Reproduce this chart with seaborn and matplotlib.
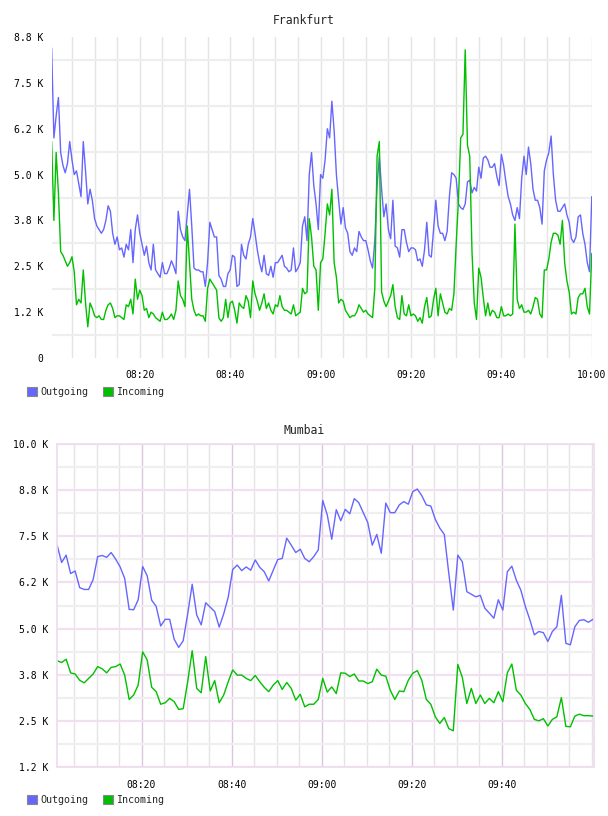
import numpy as np
import matplotlib
matplotlib.use("Agg")
import matplotlib.pyplot as plt
from matplotlib.patches import Patch
from matplotlib.ticker import FixedLocator, MultipleLocator
import seaborn as sns

# Frankfurt, 30 s samples (values in K)
fra_out = [
    8.45, 6.0, 6.6, 7.1, 5.6, 5.25, 5.05, 5.3, 5.9, 5.4,
    5.0, 5.1, 4.75, 4.4, 5.9, 5.1, 4.2, 4.6, 4.3, 3.8,
    3.6, 3.5, 3.4, 3.5, 3.75, 4.15, 4.0, 3.4, 3.1, 3.3,
    2.95, 3.0, 2.75, 3.1, 2.95, 3.5, 2.6, 3.5, 3.9, 3.4,
    3.1, 2.8, 3.05, 2.6, 2.4, 3.1, 2.4, 2.3, 2.2, 2.6,
    2.3, 2.3, 2.45, 2.65, 2.5, 2.3, 4.0, 3.5, 3.3, 3.2,
    3.9, 4.6, 3.6, 2.45, 2.4, 2.4, 2.35, 2.35, 1.95, 2.6,
    3.7, 3.5, 3.3, 3.3, 2.25, 2.15, 1.95, 1.95, 2.3, 2.4,
    2.8, 2.75, 1.95, 2.0, 3.1, 2.8, 2.7, 3.1, 3.3, 3.8,
    3.4, 2.95, 2.6, 2.35, 2.8, 2.3, 2.25, 2.5, 2.2, 2.6,
    2.6, 2.7, 2.8, 2.5, 2.45, 2.35, 2.4, 3.0, 2.35, 2.45,
    2.6, 3.6, 3.85, 3.2, 5.0, 5.6, 4.7, 4.2, 3.5, 5.0,
    4.9, 5.4, 6.25, 6.0, 7.0, 6.2, 5.0, 4.3, 3.65, 4.1,
    3.55, 3.4, 2.9, 2.8, 3.0, 2.9, 3.45, 3.3, 3.2, 3.2,
    2.95, 2.65, 2.45, 3.2, 4.7, 5.5, 4.6, 3.85, 4.2, 3.5,
    3.25, 4.3, 3.05, 3.0, 2.75, 3.5, 3.5, 3.15, 2.9, 3.0,
    3.0, 2.95, 2.65, 2.7, 2.5, 2.95, 3.7, 2.8, 2.75, 3.5,
    4.3, 3.6, 3.4, 3.4, 3.2, 3.45, 4.4, 5.05, 5.0, 4.9,
    4.2, 4.1, 4.05, 4.2, 4.8, 4.85, 4.5, 4.65, 4.55, 5.2,
    4.9, 5.45, 5.5, 5.4, 5.2, 5.2, 5.3, 4.95, 4.7, 5.55,
    5.25, 4.8, 4.4, 4.2, 3.9, 3.75, 4.1, 3.8, 4.9, 5.5,
    5.0, 5.75, 5.3, 4.6, 4.3, 4.3, 4.1, 3.65, 5.1, 5.4,
    5.6, 6.05, 5.0, 4.3, 4.0, 4.0, 4.1, 4.2, 3.9, 3.7,
    3.25, 3.15, 3.3, 3.85, 3.9, 3.4, 3.1, 2.6, 2.35, 4.4,
]
fra_in = [
    5.9, 3.75, 5.6, 4.5, 2.9, 2.8, 2.65, 2.5, 2.6, 2.76,
    2.35, 1.45, 1.6, 1.5, 2.4, 1.5, 0.85, 1.5, 1.35, 1.15,
    1.1, 1.15, 1.05, 1.05, 1.3, 1.45, 1.5, 1.35, 1.1, 1.15,
    1.15, 1.1, 1.05, 1.45, 1.4, 1.6, 1.2, 2.15, 1.6, 1.85,
    1.7, 1.3, 1.35, 1.1, 1.25, 1.2, 1.1, 1.05, 1.0, 1.25,
    1.05, 1.05, 1.1, 1.2, 1.05, 1.3, 2.1, 1.7, 1.6, 1.4,
    3.6, 2.6, 1.6, 1.3, 1.15, 1.2, 1.15, 1.15, 1.0, 1.9,
    2.15, 2.05, 1.95, 1.85, 1.1, 1.0, 1.1, 1.6, 1.1, 1.5,
    1.55, 1.3, 0.95, 1.5, 1.4, 1.35, 1.7, 1.55, 1.1, 2.1,
    1.75, 1.55, 1.3, 1.5, 1.75, 1.35, 1.5, 1.3, 1.2, 1.45,
    1.4, 1.7, 1.4, 1.3, 1.3, 1.25, 1.2, 1.45, 1.15, 1.2,
    1.25, 1.9, 1.75, 1.8, 3.8, 3.3, 2.5, 2.4, 1.3, 2.6,
    2.7, 3.4, 4.2, 3.9, 4.6, 2.6, 2.2, 1.5, 1.6, 1.55,
    1.3, 1.2, 1.1, 1.15, 1.15, 1.25, 1.45, 1.35, 1.25, 1.3,
    1.2, 1.15, 1.1, 1.9, 5.5, 5.9, 1.8, 1.55, 1.4, 1.55,
    1.7, 2.0, 1.4, 1.1, 1.05, 1.7, 1.2, 1.15, 1.45, 1.15,
    1.2, 1.15, 1.0, 1.1, 0.95, 1.4, 1.65, 1.1, 1.15, 1.6,
    1.9, 1.15, 1.75, 1.5, 1.25, 1.2, 1.35, 1.3, 1.75, 3.1,
    4.3, 6.0, 6.1, 8.4, 5.8, 5.5, 2.9, 1.5, 1.05, 2.45,
    2.2, 1.65, 1.15, 1.5, 1.15, 1.3, 1.25, 1.1, 1.1, 1.4,
    1.15, 1.15, 1.2, 1.15, 1.2, 3.65, 1.6, 1.35, 1.45, 1.25,
    1.25, 1.3, 1.2, 1.4, 1.65, 1.6, 1.2, 1.1, 2.4, 2.4,
    2.7, 3.15, 3.4, 3.4, 3.35, 3.1, 3.75, 2.6, 2.1, 1.8,
    1.2, 1.25, 1.2, 1.65, 1.75, 1.75, 1.9, 1.4, 1.2, 2.85,
]

# Mumbai, 1 min samples (values in K)
mum_out = [
    7.26, 6.79, 6.99, 6.49, 6.56, 6.11, 6.06, 6.06, 6.33, 6.95,
    6.98, 6.93, 7.06, 6.88, 6.67, 6.36, 5.52, 5.51, 5.78, 6.68,
    6.43, 5.77, 5.6, 5.07, 5.25, 5.25, 4.71, 4.49, 4.67, 5.4,
    6.2, 5.37, 5.1, 5.7, 5.58, 5.46, 5.04, 5.4, 5.85, 6.6,
    6.72, 6.57, 6.67, 6.58, 6.86, 6.66, 6.54, 6.29, 6.58, 6.87,
    6.9, 7.45, 7.26, 7.06, 7.15, 6.9, 6.81, 6.95, 7.13, 8.47,
    8.08, 7.42, 8.22, 7.92, 8.23, 8.11, 8.52, 8.41, 8.14, 7.87,
    7.26, 7.55, 7.04, 8.4, 8.14, 8.14, 8.35, 8.44, 8.37, 8.71,
    8.78, 8.6, 8.35, 8.32, 7.96, 7.72, 7.55, 6.49, 5.5, 6.99,
    6.81, 6.0, 5.93, 5.86, 5.9, 5.55, 5.42, 5.28, 5.78, 5.5,
    6.54, 6.69, 6.31, 6.04, 5.6, 5.24, 4.83, 4.92, 4.89, 4.65,
    4.92, 5.05, 5.9, 4.6, 4.56, 5.05, 5.22, 5.24, 5.17, 5.25,
]
mum_in = [
    4.13, 4.08, 4.17, 3.8, 3.77, 3.6, 3.53, 3.65, 3.77, 3.97,
    3.91, 3.8, 3.95, 3.97, 4.04, 3.74, 3.08, 3.2, 3.47, 4.37,
    4.15, 3.41, 3.29, 2.95, 2.99, 3.11, 3.02, 2.81, 2.83, 3.56,
    4.4, 3.38, 3.26, 4.24, 3.31, 3.59, 2.99, 3.2, 3.56, 3.88,
    3.74, 3.74, 3.65, 3.59, 3.73, 3.56, 3.41, 3.29, 3.47, 3.59,
    3.35, 3.54, 3.38, 3.06, 3.22, 2.88, 2.95, 2.95, 3.08, 3.65,
    3.28, 3.42, 3.24, 3.8, 3.79, 3.7, 3.77, 3.58, 3.58, 3.51,
    3.56, 3.9, 3.74, 3.71, 3.33, 3.08, 3.31, 3.29, 3.6, 3.79,
    3.86, 3.6, 3.08, 2.95, 2.61, 2.43, 2.59, 2.29, 2.23, 4.03,
    3.68, 2.97, 3.38, 2.97, 3.2, 2.97, 3.11, 2.99, 3.29, 3.02,
    3.8, 4.04, 3.33, 3.2, 2.97, 2.81, 2.54, 2.5, 2.56, 2.36,
    2.54, 2.61, 3.13, 2.35, 2.34, 2.63, 2.68, 2.64, 2.64, 2.63,
]

# minutes after 08:00
fra_t = np.arange(1, len(fra_out) + 1) * 0.5
mum_t = 1.25 + np.arange(len(mum_out))

time_ticks = [20, 40, 60, 80, 100, 120]
time_labels = ["08:20", "08:40", "09:00", "09:20", "09:40", "10:00"]
fra_yticks = [0, 1.25, 2.5, 3.75, 5.0, 6.25, 7.5, 8.75]
fra_ylabels = ["0", "1.2 K", "2.5 K", "3.8 K", "5.0 K", "6.2 K", "7.5 K", "8.8 K"]
mum_yticks = [1.25, 2.5, 3.75, 5.0, 6.25, 7.5, 8.75, 10.0]
mum_ylabels = ["1.2 K", "2.5 K", "3.8 K", "5.0 K", "6.2 K", "7.5 K", "8.8 K", "10.0 K"]

OUT_C = "#6666ff"
IN_C = "#00c000"

sns.set_style("white")
plt.rcParams['font.family'] = ['DejaVu Sans Mono', 'DejaVu Sans']

fig = plt.figure(figsize=(6.08, 8.16), dpi=100)
W, H = 608, 816

# ---- Frankfurt ----
ax1 = fig.add_axes([52 / W, 1 - 358 / H, 540 / W, 321 / H])
sns.lineplot(x=fra_t, y=fra_out, ax=ax1, color=OUT_C, linewidth=1.0)
sns.lineplot(x=fra_t, y=fra_in, ax=ax1, color=IN_C, linewidth=1.0)
ax1.set_xlim(0.58, 120.05)
ax1.set_ylim(0, 8.75)
ax1.xaxis.set_major_locator(FixedLocator(time_ticks))
ax1.set_xticklabels(time_labels)
ax1.xaxis.set_minor_locator(MultipleLocator(5))
ax1.yaxis.set_major_locator(FixedLocator(fra_yticks))
ax1.set_yticklabels(fra_ylabels)
ax1.yaxis.set_minor_locator(FixedLocator([0.625 + 1.25 * i for i in range(7)]))
ax1.grid(False)
ax1.grid(True, axis="x", which="both", color="#e4e4e4", linewidth=1.0)
ax1.grid(True, axis="y", which="minor", color="#eeeeee", linewidth=1.6)
for s in ax1.spines.values():
    s.set_visible(False)

# ---- Mumbai ----
ax2 = fig.add_axes([57 / W, 1 - 767 / H, 537 / W, 323 / H])
sns.lineplot(x=mum_t, y=mum_out, ax=ax2, color=OUT_C, linewidth=1.0)
sns.lineplot(x=mum_t, y=mum_in, ax=ax2, color=IN_C, linewidth=1.0)
ax2.set_xlim(1.22, 120.5)
ax2.set_ylim(1.25, 10.0)
ax2.xaxis.set_major_locator(FixedLocator(time_ticks[:-1]))
ax2.set_xticklabels(time_labels[:-1])
ax2.xaxis.set_minor_locator(MultipleLocator(5))
ax2.yaxis.set_major_locator(FixedLocator(mum_yticks))
ax2.set_yticklabels(mum_ylabels)
ax2.yaxis.set_minor_locator(FixedLocator([1.875 + 1.25 * i for i in range(7)]))
ax2.grid(False)
ax2.grid(True, axis="x", which="major", color="#dcc6dc", linewidth=1.0)
ax2.grid(True, axis="x", which="minor", color="#e8e2e8", linewidth=1.0)
ax2.grid(True, axis="y", which="major", color="#f0e0f0", linewidth=1.6)
ax2.grid(True, axis="y", which="minor", color="#efefef", linewidth=1.6)
for s in ax2.spines.values():
    s.set_color("#eedcee")
    s.set_linewidth(1.2)

for ax in (ax1, ax2):
    ax.set_axisbelow(True)
    ax.set_xlabel("")
    ax.set_ylabel("")
    ax.tick_params(which="both", length=0, labelsize=7, colors="#000000")
    ax.tick_params(axis="y", pad=6)
    ax.tick_params(axis="x", pad=9)

fig.text(304 / W, 1 - 20 / H, "Frankfurt", ha="center", va="center", fontsize=8.3)
fig.text(304 / W, 1 - 430 / H, "Mumbai", ha="center", va="center", fontsize=8.3)

handles = [Patch(facecolor=OUT_C, edgecolor="#888888", linewidth=0.8),
           Patch(facecolor=IN_C, edgecolor="#888888", linewidth=0.8)]
labels = ["Outgoing", "Incoming"]
for ycen in (392, 800):
    fig.legend(handles, labels, loc="center left",
               bbox_to_anchor=(20 / W, 1 - ycen / H), ncol=2, frameon=False,
               fontsize=7.2, handlelength=1.0, handleheight=1.0,
               handletextpad=0.35, columnspacing=1.4, borderpad=0.2)

fig.savefig("out.png", dpi=100)
